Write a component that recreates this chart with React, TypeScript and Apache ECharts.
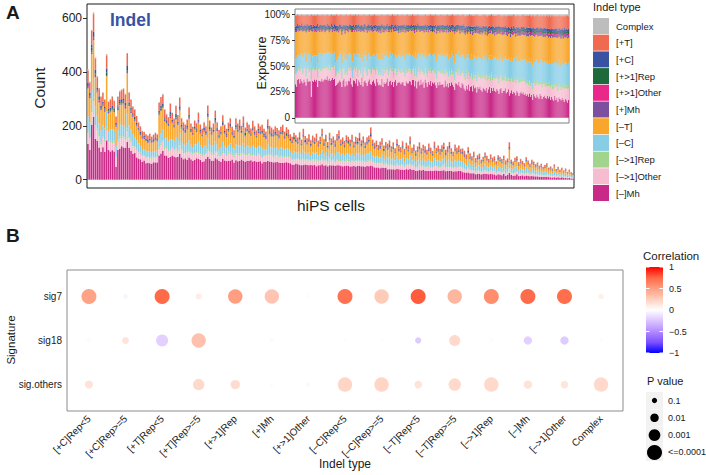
import React, { useEffect, useRef } from 'react';
import * as echarts from 'echarts';

const FONT = '"Liberation Sans", Arial, Helvetica, sans-serif';

// ---------- Panel A: indel counts per hiPS cell ----------
const cellTotals = [
  410, 365, 555, 622, 455, 385, 340, 310, 325, 300, 467, 290, 300, 311, 295, 235, 310, 331, 336, 340,
  320, 470, 326, 300, 274, 263, 237, 215, 200, 182, 178, 170, 165, 172, 160, 168, 175, 170, 289, 307,
  319, 263, 245, 232, 285, 250, 228, 276, 240, 307, 230, 215, 205, 225, 271, 210, 198, 220, 212, 251,
  205, 190, 215, 200, 278, 220, 195, 210, 258, 215, 185, 200, 241, 205, 190, 212, 230, 198, 185, 230,
  210, 225, 200, 237, 195, 215, 205, 190, 220, 200, 185, 210, 198, 205, 190, 180, 226, 200, 195, 188,
  200, 192, 185, 198, 205, 180, 195, 188, 170, 160, 175, 165, 158, 178, 150, 190, 162, 155, 170, 148,
  165, 158, 172, 145, 160, 190, 152, 168, 140, 175, 155, 162, 148, 170, 185, 150, 158, 145, 165, 160,
  150, 168, 142, 160, 155, 175, 148, 162, 140, 158, 165, 196, 150, 138, 145, 130, 142, 155, 128, 140,
  135, 148, 125, 140, 118, 150, 130, 122, 145, 115, 138, 128, 160, 120, 132, 110, 125, 140, 118, 130,
  125, 112, 135, 120, 108, 142, 118, 128, 115, 130, 138, 112, 125, 140, 118, 105, 132, 120, 128, 115,
  118, 108, 95, 122, 100, 88, 105, 80, 92, 98, 75, 85, 102, 90, 78, 95, 82, 88, 70, 92,
  85, 78, 90, 72, 80, 140, 75, 68, 82, 88, 65, 78, 70, 62, 85, 72, 60, 75, 68, 58,
  65, 52, 60, 48, 55, 62, 45, 50, 42, 58, 40, 48, 38, 45, 35, 42, 30, 38, 28, 25,
];

// share (%) of each indel type per cell
const shareDelMh = [
  32, 30, 35, 36, 33, 38, 36, 34, 37, 35, 30, 38, 36, 37, 35, 20, 36, 35, 37, 36,
  38, 28, 36, 37, 35, 38, 36, 37, 39, 38, 40, 37, 39, 36, 38, 40, 37, 39, 30, 32,
  33, 35, 37, 34, 30, 36, 38, 32, 35, 31, 37, 36, 38, 34, 30, 37, 36, 33, 38, 31,
  37, 35, 33, 38, 30, 36, 37, 34, 31, 36, 38, 33, 32, 36, 37, 34, 31, 38, 36, 32,
  34, 32, 36, 31, 37, 33, 35, 38, 32, 36, 37, 33, 35, 30, 36, 38, 32, 34, 36, 35,
  33, 35, 36, 32, 31, 37, 34, 35, 38, 36, 33, 37, 39, 32, 38, 30, 36, 37, 33, 38,
  34, 36, 31, 38, 35, 30, 37, 33, 38, 32, 36, 34, 37, 31, 29, 36, 33, 37, 32, 35,
  35, 31, 37, 33, 34, 30, 36, 32, 37, 34, 31, 27, 35, 36, 33, 37, 32, 30, 36, 33,
  30, 28, 33, 29, 34, 27, 31, 33, 28, 34, 29, 31, 25, 32, 30, 33, 28, 26, 31, 29,
  28, 31, 26, 29, 32, 25, 30, 27, 31, 28, 26, 30, 28, 24, 29, 31, 25, 28, 27, 30,
  25, 27, 29, 22, 26, 28, 24, 27, 25, 23, 28, 26, 22, 25, 27, 24, 26, 23, 25, 22,
  24, 22, 25, 21, 23, 18, 24, 22, 20, 23, 21, 19, 24, 22, 18, 21, 23, 20, 19, 22,
  20, 22, 18, 21, 19, 17, 22, 18, 20, 16, 21, 19, 17, 20, 18, 16, 19, 17, 15, 18,
];
const shareDelOther = [
  10, 12, 8, 9, 11, 10, 12, 9, 11, 13, 8, 10, 12, 9, 11, 14, 10, 12, 9, 11,
  10, 8, 11, 12, 10, 9, 12, 11, 10, 12, 9, 11, 13, 10, 12, 11, 9, 12, 8, 10,
  11, 9, 12, 10, 8, 11, 10, 12, 9, 10, 12, 11, 9, 13, 8, 10, 12, 11, 10, 9,
  10, 12, 11, 9, 8, 11, 13, 10, 9, 12, 10, 11, 9, 12, 10, 13, 11, 9, 12, 10,
  12, 10, 9, 11, 13, 10, 12, 9, 11, 10, 12, 13, 10, 9, 11, 12, 10, 11, 13, 10,
  11, 13, 10, 12, 9, 11, 10, 12, 13, 10, 11, 9, 12, 10, 13, 11, 10, 12, 11, 9,
  12, 10, 13, 11, 10, 9, 12, 11, 10, 13, 11, 12, 10, 11, 9, 12, 13, 10, 11, 12,
  11, 12, 10, 13, 11, 10, 12, 11, 13, 10, 12, 9, 11, 12, 10, 13, 11, 12, 10, 11,
  12, 11, 13, 10, 12, 11, 10, 13, 12, 11, 10, 12, 11, 13, 12, 10, 11, 13, 12, 11,
  11, 13, 12, 10, 11, 12, 13, 11, 10, 12, 13, 11, 12, 10, 11, 13, 12, 11, 10, 12,
  12, 11, 10, 13, 12, 11, 12, 10, 13, 12, 11, 12, 13, 11, 10, 12, 11, 13, 12, 11,
  11, 12, 13, 11, 12, 10, 11, 13, 12, 11, 12, 13, 10, 12, 11, 13, 12, 11, 12, 10,
  12, 11, 13, 12, 10, 12, 11, 13, 12, 11, 13, 12, 10, 11, 12, 13, 11, 12, 13, 12,
];
const shareDelRep = [
  2, 1, 2, 2, 1, 2, 3, 2, 1, 2, 2, 1, 2, 2, 3, 2, 1, 2, 2, 1,
  2, 2, 1, 3, 2, 1, 2, 2, 3, 1, 2, 2, 1, 2, 3, 2, 2, 1, 2, 2,
  1, 2, 3, 2, 2, 1, 2, 3, 2, 2, 1, 2, 2, 3, 1, 2, 2, 2, 1, 3,
  2, 3, 2, 1, 2, 2, 3, 2, 1, 2, 3, 2, 2, 1, 2, 3, 2, 2, 3, 1,
  3, 2, 2, 1, 3, 2, 2, 3, 2, 1, 2, 2, 3, 2, 1, 2, 3, 2, 2, 3,
  2, 1, 3, 2, 2, 3, 1, 2, 3, 2, 2, 1, 2, 3, 2, 2, 3, 1, 2, 2,
  2, 3, 2, 2, 1, 3, 2, 2, 3, 2, 1, 2, 3, 2, 2, 3, 1, 2, 2, 3,
  3, 2, 2, 3, 2, 1, 3, 2, 2, 3, 2, 2, 1, 3, 2, 3, 2, 2, 3, 2,
  2, 3, 3, 2, 2, 3, 2, 3, 2, 2, 3, 3, 2, 2, 3, 2, 3, 2, 3, 3,
  3, 2, 3, 3, 2, 3, 2, 3, 3, 2, 3, 2, 3, 3, 2, 3, 3, 2, 3, 2,
  3, 3, 2, 3, 3, 2, 3, 3, 2, 3, 3, 3, 2, 3, 3, 2, 3, 3, 3, 2,
  3, 3, 4, 2, 3, 3, 3, 2, 4, 3, 3, 2, 3, 3, 4, 3, 2, 3, 3, 4,
  3, 4, 3, 3, 4, 3, 2, 4, 3, 3, 4, 3, 3, 4, 3, 3, 4, 3, 3, 4,
];
const shareDelC = [
  13, 15, 12, 11, 14, 13, 12, 15, 13, 14, 12, 13, 14, 15, 12, 16, 13, 14, 12, 13,
  12, 11, 14, 13, 15, 12, 14, 13, 12, 14, 13, 15, 12, 14, 13, 12, 14, 13, 11, 12,
  13, 14, 12, 15, 13, 12, 14, 13, 15, 12, 13, 14, 12, 13, 15, 14, 12, 13, 14, 15,
  14, 13, 15, 12, 14, 13, 12, 15, 14, 13, 12, 14, 15, 13, 14, 12, 15, 13, 14, 15,
  15, 14, 13, 16, 14, 15, 13, 14, 16, 15, 14, 13, 15, 16, 14, 13, 15, 14, 13, 16,
  14, 15, 13, 16, 15, 14, 16, 15, 13, 15, 16, 14, 15, 16, 14, 17, 15, 14, 16, 15,
  16, 15, 17, 14, 16, 15, 14, 17, 16, 15, 16, 14, 17, 16, 15, 14, 17, 16, 15, 17,
  16, 17, 15, 16, 18, 17, 15, 16, 17, 18, 16, 15, 17, 16, 18, 15, 17, 18, 16, 17,
  18, 17, 16, 19, 17, 18, 16, 17, 19, 18, 17, 16, 19, 18, 17, 19, 18, 16, 17, 19,
  18, 19, 17, 18, 20, 19, 17, 18, 19, 20, 18, 17, 19, 20, 18, 19, 17, 20, 19, 18,
  19, 20, 18, 21, 19, 20, 18, 21, 20, 19, 21, 18, 20, 19, 21, 20, 18, 19, 21, 20,
  20, 21, 19, 22, 20, 21, 19, 20, 22, 21, 19, 20, 21, 22, 20, 19, 21, 22, 20, 21,
  21, 22, 20, 21, 23, 21, 22, 20, 21, 23, 22, 21, 20, 22, 21, 23, 22, 21, 20, 22,
];
const shareDelT = [
  25, 24, 23, 22, 24, 22, 23, 25, 22, 21, 27, 23, 22, 24, 23, 30, 24, 22, 23, 24,
  23, 30, 22, 21, 23, 24, 22, 23, 21, 22, 21, 22, 20, 23, 22, 21, 23, 21, 30, 28,
  25, 24, 22, 23, 28, 24, 22, 26, 23, 28, 22, 23, 22, 24, 28, 23, 22, 25, 21, 27,
  22, 23, 25, 22, 29, 23, 22, 24, 27, 23, 22, 25, 26, 23, 22, 24, 26, 22, 23, 26,
  24, 26, 23, 27, 22, 25, 23, 22, 25, 23, 22, 24, 23, 27, 24, 22, 26, 24, 22, 23,
  24, 23, 24, 25, 26, 23, 24, 23, 22, 24, 25, 24, 22, 25, 23, 27, 24, 23, 25, 22,
  24, 23, 25, 22, 24, 28, 23, 24, 22, 25, 23, 24, 22, 25, 27, 23, 24, 22, 25, 23,
  24, 25, 23, 24, 22, 26, 23, 25, 22, 23, 25, 28, 24, 23, 25, 22, 24, 25, 23, 24,
  25, 26, 24, 25, 23, 26, 25, 24, 26, 23, 25, 24, 27, 23, 25, 24, 26, 25, 24, 25,
  25, 24, 26, 25, 23, 26, 24, 25, 24, 23, 25, 26, 24, 27, 25, 24, 26, 25, 24, 25,
  25, 24, 26, 24, 25, 24, 26, 25, 24, 26, 24, 25, 26, 25, 24, 25, 26, 24, 25, 26,
  25, 26, 24, 27, 25, 30, 25, 26, 25, 24, 26, 27, 25, 24, 26, 25, 26, 24, 27, 25,
  26, 24, 26, 25, 26, 27, 25, 26, 25, 27, 24, 26, 27, 25, 26, 27, 25, 26, 27, 25,
];
const shareInsMh = [
  1, 2, 1, 1, 2, 1, 2, 1, 1, 2, 1, 2, 1, 1, 2, 1, 2, 1, 1, 2,
  2, 1, 1, 2, 1, 2, 1, 1, 2, 1, 2, 1, 2, 1, 1, 2, 1, 2, 1, 1,
  1, 2, 1, 1, 2, 1, 2, 2, 1, 1, 2, 1, 1, 2, 1, 2, 1, 1, 2, 1,
  2, 1, 2, 1, 1, 2, 1, 1, 2, 2, 1, 1, 2, 1, 2, 1, 1, 2, 1, 2,
  1, 2, 1, 2, 2, 1, 1, 2, 1, 2, 1, 2, 1, 1, 2, 2, 1, 2, 1, 1,
  2, 1, 2, 1, 2, 1, 2, 2, 1, 1, 2, 2, 1, 2, 1, 2, 1, 2, 2, 1,
  1, 2, 2, 1, 2, 1, 2, 1, 2, 2, 1, 2, 2, 1, 2, 1, 2, 2, 1, 2,
  2, 2, 1, 2, 1, 2, 2, 1, 2, 2, 2, 1, 2, 2, 1, 2, 2, 1, 2, 2,
  2, 1, 2, 2, 2, 1, 2, 2, 3, 2, 1, 2, 2, 2, 3, 2, 2, 1, 2, 2,
  2, 2, 3, 2, 2, 2, 1, 2, 3, 2, 2, 2, 3, 2, 2, 1, 2, 3, 2, 2,
  2, 3, 2, 2, 3, 2, 2, 3, 2, 2, 3, 2, 2, 3, 2, 2, 3, 2, 2, 3,
  2, 3, 2, 3, 2, 2, 3, 2, 3, 2, 3, 2, 2, 3, 2, 3, 2, 3, 2, 3,
  3, 2, 3, 2, 3, 3, 2, 3, 2, 3, 2, 3, 3, 2, 3, 2, 3, 3, 2, 3,
];
const shareInsOther = [
  1, 0, 1, 1, 0, 1, 1, 0, 1, 1, 0, 1, 1, 1, 0, 1, 0, 1, 1, 0,
  1, 1, 0, 1, 1, 0, 1, 1, 0, 1, 1, 0, 1, 0, 1, 1, 0, 1, 1, 0,
  0, 1, 1, 0, 1, 1, 0, 1, 1, 0, 1, 1, 0, 1, 1, 0, 1, 0, 1, 1,
  1, 0, 1, 1, 0, 1, 1, 0, 1, 0, 1, 1, 0, 1, 1, 0, 1, 1, 0, 1,
  1, 1, 0, 1, 1, 0, 1, 0, 1, 1, 0, 1, 1, 0, 1, 1, 0, 1, 1, 0,
  0, 1, 1, 0, 1, 1, 0, 1, 1, 0, 1, 0, 1, 1, 0, 1, 1, 0, 1, 1,
  1, 0, 1, 1, 0, 1, 1, 0, 1, 1, 0, 1, 1, 0, 1, 1, 0, 1, 1, 0,
  1, 1, 0, 1, 1, 0, 1, 1, 0, 1, 1, 1, 0, 1, 1, 0, 1, 1, 0, 1,
  1, 1, 1, 0, 1, 1, 1, 0, 1, 1, 1, 0, 1, 1, 1, 0, 1, 1, 1, 0,
  1, 1, 0, 1, 1, 1, 0, 1, 1, 1, 0, 1, 1, 1, 0, 1, 1, 1, 0, 1,
  1, 1, 1, 0, 1, 1, 1, 1, 0, 1, 1, 1, 1, 0, 1, 1, 1, 1, 0, 1,
  1, 1, 1, 1, 0, 1, 1, 1, 1, 0, 1, 1, 1, 1, 0, 1, 1, 1, 1, 0,
  1, 1, 1, 1, 1, 0, 1, 1, 1, 1, 1, 0, 1, 1, 1, 1, 1, 0, 1, 1,
];
const shareInsRep = [
  1, 1, 2, 1, 1, 1, 2, 1, 1, 1, 2, 1, 1, 2, 1, 1, 1, 2, 1, 1,
  1, 2, 1, 1, 1, 2, 1, 1, 2, 1, 1, 1, 2, 1, 1, 2, 1, 1, 1, 2,
  2, 1, 1, 1, 2, 1, 1, 2, 1, 1, 1, 2, 1, 1, 2, 1, 1, 1, 2, 1,
  1, 1, 2, 1, 1, 2, 1, 1, 1, 2, 1, 1, 2, 1, 1, 1, 2, 1, 1, 2,
  1, 2, 1, 1, 2, 1, 1, 1, 2, 1, 1, 2, 1, 1, 1, 2, 1, 1, 2, 1,
  2, 1, 1, 2, 1, 1, 2, 1, 1, 1, 2, 1, 1, 2, 1, 1, 2, 1, 1, 1,
  1, 1, 2, 1, 2, 1, 1, 2, 1, 1, 2, 1, 1, 1, 2, 1, 1, 2, 1, 2,
  2, 1, 1, 2, 1, 2, 1, 1, 2, 1, 1, 2, 1, 2, 1, 1, 2, 1, 2, 1,
  1, 2, 1, 2, 1, 1, 2, 1, 2, 1, 2, 1, 1, 2, 1, 2, 1, 2, 1, 1,
  2, 1, 2, 1, 2, 1, 1, 2, 1, 2, 1, 2, 1, 2, 2, 1, 2, 1, 2, 1,
  1, 2, 2, 1, 2, 1, 2, 2, 1, 2, 1, 2, 2, 1, 2, 2, 1, 2, 1, 2,
  2, 2, 1, 2, 2, 1, 2, 2, 1, 2, 2, 1, 2, 2, 1, 2, 2, 2, 1, 2,
  2, 1, 2, 2, 2, 1, 2, 2, 2, 1, 2, 2, 1, 2, 2, 2, 1, 2, 2, 2,
];
const shareInsC = [
  2, 3, 2, 2, 3, 2, 2, 3, 2, 2, 3, 2, 3, 2, 2, 3, 2, 2, 3, 2,
  3, 2, 2, 3, 2, 2, 3, 2, 3, 2, 2, 3, 2, 2, 3, 2, 2, 3, 2, 3,
  2, 2, 3, 2, 3, 2, 2, 3, 2, 3, 2, 2, 3, 2, 2, 3, 2, 3, 2, 2,
  3, 2, 2, 3, 2, 3, 2, 2, 3, 2, 3, 2, 2, 3, 2, 3, 2, 2, 3, 2,
  2, 3, 2, 2, 3, 2, 3, 2, 2, 3, 2, 3, 2, 3, 2, 2, 3, 2, 3, 2,
  3, 2, 3, 2, 2, 3, 2, 3, 2, 3, 2, 2, 3, 2, 3, 2, 3, 2, 2, 3,
  2, 3, 2, 3, 2, 2, 3, 2, 3, 2, 3, 2, 3, 2, 2, 3, 2, 3, 2, 3,
  3, 2, 3, 2, 3, 2, 3, 3, 2, 3, 2, 3, 2, 3, 3, 2, 3, 2, 3, 2,
  3, 3, 2, 3, 2, 3, 3, 2, 3, 3, 2, 3, 3, 2, 3, 3, 2, 3, 3, 2,
  3, 2, 3, 3, 3, 2, 3, 3, 2, 3, 3, 3, 2, 3, 3, 2, 3, 3, 3, 2,
  3, 3, 2, 3, 3, 3, 2, 3, 3, 3, 2, 3, 3, 3, 3, 2, 3, 3, 3, 3,
  3, 3, 3, 2, 3, 3, 3, 3, 2, 3, 3, 3, 3, 2, 3, 3, 4, 3, 3, 3,
  3, 4, 3, 3, 3, 4, 3, 3, 4, 3, 3, 3, 4, 3, 3, 4, 3, 3, 4, 3,
];
const shareInsT = [
  11, 10, 9, 10, 9, 10, 9, 11, 10, 9, 10, 9, 10, 11, 9, 10, 11, 9, 10, 11,
  10, 9, 11, 10, 9, 10, 11, 9, 10, 11, 9, 10, 10, 11, 9, 10, 11, 9, 10, 11,
  10, 11, 9, 10, 11, 10, 9, 11, 10, 10, 11, 9, 10, 11, 10, 9, 11, 10, 9, 10,
  10, 11, 10, 9, 11, 10, 9, 11, 10, 9, 11, 10, 9, 11, 10, 11, 9, 10, 11, 10,
  11, 10, 9, 11, 10, 11, 10, 9, 11, 10, 11, 9, 10, 11, 10, 9, 11, 10, 11, 10,
  10, 11, 10, 9, 11, 10, 11, 10, 11, 10, 9, 11, 10, 11, 10, 11, 9, 10, 11, 10,
  11, 10, 11, 10, 11, 9, 11, 10, 11, 10, 11, 10, 11, 10, 11, 10, 11, 10, 11, 10,
  10, 11, 10, 11, 10, 11, 10, 11, 10, 11, 10, 11, 11, 10, 11, 10, 11, 10, 11, 10,
  11, 12, 11, 12, 11, 12, 11, 12, 11, 12, 11, 12, 11, 12, 11, 12, 11, 12, 11, 12,
  12, 11, 12, 12, 11, 12, 12, 11, 12, 12, 11, 12, 12, 11, 12, 12, 11, 12, 12, 11,
  12, 13, 12, 12, 13, 12, 13, 12, 12, 13, 12, 13, 12, 13, 12, 12, 13, 12, 13, 12,
  13, 12, 13, 13, 12, 13, 12, 13, 13, 12, 13, 13, 12, 13, 12, 13, 13, 12, 13, 13,
  13, 14, 13, 13, 14, 13, 14, 13, 13, 14, 13, 14, 13, 13, 14, 13, 14, 13, 14, 13,
];
const shareComplex = [
  1, 1, 0, 1, 1, 1, 0, 1, 1, 1, 1, 0, 1, 1, 1, 0, 1, 1, 1, 1,
  1, 0, 1, 1, 1, 1, 0, 1, 1, 1, 0, 1, 1, 1, 0, 1, 1, 1, 1, 0,
  1, 1, 1, 0, 1, 1, 1, 1, 0, 1, 1, 1, 0, 1, 1, 1, 1, 0, 1, 1,
  0, 1, 1, 1, 1, 0, 1, 1, 1, 1, 0, 1, 1, 1, 1, 0, 1, 1, 1, 1,
  1, 1, 0, 1, 1, 1, 1, 0, 1, 1, 1, 1, 0, 1, 1, 1, 1, 0, 1, 1,
  1, 0, 1, 1, 1, 1, 0, 1, 1, 1, 1, 0, 1, 1, 1, 1, 0, 1, 1, 1,
  1, 1, 1, 0, 1, 1, 1, 1, 0, 1, 1, 1, 1, 0, 1, 1, 1, 1, 0, 1,
  1, 1, 1, 1, 0, 1, 1, 1, 1, 0, 1, 1, 1, 1, 0, 1, 1, 1, 1, 0,
  1, 2, 1, 1, 1, 0, 1, 1, 2, 1, 1, 1, 0, 1, 1, 2, 1, 1, 1, 0,
  1, 1, 2, 1, 1, 1, 0, 1, 1, 2, 1, 1, 1, 0, 1, 1, 2, 1, 1, 1,
  2, 1, 1, 1, 2, 1, 1, 0, 1, 2, 1, 1, 1, 2, 1, 1, 0, 1, 2, 1,
  1, 2, 1, 1, 2, 1, 1, 2, 1, 1, 0, 2, 1, 1, 2, 1, 1, 2, 1, 1,
  2, 1, 2, 1, 1, 2, 1, 2, 1, 2, 1, 1, 2, 1, 2, 1, 2, 1, 1, 2,
];

const countTicks = [0, 200, 400, 600];
const exposureTicks = [0, 0.25, 0.5, 0.75, 1];

// ---------- Panel B: correlation between signatures and indel types ----------
const indelTypes = [
  '[+C]Rep<5', '[+C]Rep>=5', '[+T]Rep<5', '[+T]Rep>=5', '[+>1]Rep', '[+]Mh', '[+>1]Other',
  '[–C]Rep<5', '[–C]Rep>=5', '[–T]Rep<5', '[–T]Rep>=5', '[–>1]Rep', '[–]Mh', '[–>1]Other', 'Complex',
];
const signatures = ['sig.others', 'sig18', 'sig7'];
const corrSig7 = [0.48, -0.05, 0.74, 0.1, 0.5, 0.3, 0.02, 0.7, 0.27, 0.78, 0.38, 0.58, 0.73, 0.72, 0.08];
const pSig7 = [1e-4, 0.16, 1e-5, 0.06, 1.5e-4, 1.5e-4, 0.25, 1e-4, 1.5e-4, 1e-5, 1.5e-4, 1e-4, 1e-5, 1e-5, 0.08];
const corrSig18 = [0.03, 0.15, -0.2, 0.32, 0.01, -0.03, 0.01, 0.02, 0.02, -0.22, 0.2, 0.02, -0.2, -0.22, 0.02];
const pSig18 = [0.15, 0.035, 8e-4, 1.5e-4, 0.9, 0.3, 0.7, 0.5, 0.5, 0.05, 0.0016, 0.2, 0.011, 0.011, 0.25];
const corrOthers = [0.15, 0.0, 0.01, 0.2, 0.18, 0.03, 0.04, 0.22, 0.22, 0.15, 0.2, 0.2, 0.15, 0.13, 0.2];
const pOthers = [0.014, 0.95, 0.9, 0.0013, 0.0056, 0.5, 0.3, 1.5e-4, 1.5e-4, 0.018, 6e-4, 1.5e-4, 0.011, 0.018, 1.5e-4];
const pLegendValues = [0.1, 0.01, 0.001, 0.0001];
const pLegendLabels = ['0.1', '0.01', '0.001', '<=0.0001'];
const corrTicks = [1, 0.5, 0, -0.5, -1];
const corrTickLabels = ['1', '0.5', '0', '−0.5', '−1'];

// diverging palette (blue - white - red), Lab-like interpolation stops from -1 to 1
const corrPalette = ['#0000FF', '#7E51FF', '#B38BFF', '#DCC4FF', '#FFFFFF', '#FFCFBE', '#FF9E81', '#FF6846', '#FF0000'];

function pointSize(p: number) {
  return 2 + 3.25 * Math.min(4, -Math.log10(p));
}

function txt(text: string, x: number, y: number, size: number, opts: any = {}) {
  const align = opts.align || 'left';
  const v = opts.v || 'middle';
  return {
    type: 'text',
    x,
    y,
    rotation: opts.rotation || 0,
    z: 50,
    style: {
      text,
      fill: opts.color || '#1a1a1a',
      fontSize: size,
      fontFamily: FONT,
      fontWeight: opts.bold ? 'bold' : 'normal',
      align,
      verticalAlign: v,
      textAlign: align,
      textVerticalAlign: v,
    },
  };
}

function buildOption() {
  const cats = cellTotals.map((_, i) => 'cell' + (i + 1));
  const layers = [
    { name: '[–]Mh', share: shareDelMh, color: '#C92A88' },
    { name: '[–>1]Other', share: shareDelOther, color: '#F6BDD1' },
    { name: '[–>1]Rep', share: shareDelRep, color: '#A1D48D' },
    { name: '[–C]', share: shareDelC, color: '#86CDE5' },
    { name: '[–T]', share: shareDelT, color: '#F8A62C' },
    { name: '[+]Mh', share: shareInsMh, color: '#7C4F9F' },
    { name: '[+>1]Other', share: shareInsOther, color: '#E8298A' },
    { name: '[+>1]Rep', share: shareInsRep, color: '#1E6A3B' },
    { name: '[+C]', share: shareInsC, color: '#3A52A2' },
    { name: '[+T]', share: shareInsT, color: '#EF6A50' },
    { name: 'Complex', share: shareComplex, color: '#BDBDBD' },
  ];
  const shareSum = cellTotals.map((_, i) => layers.reduce((s, l) => s + (l.share[i] ?? 0), 0));
  const counts = layers.map((l) => cellTotals.map((t, i) => (t * (l.share[i] ?? 0)) / shareSum[i]));
  const fractions = layers.map((l) => cellTotals.map((_, i) => (l.share[i] ?? 0) / shareSum[i]));

  const series: any[] = [];
  layers.forEach((l, k) => {
    series.push({
      type: 'bar',
      name: l.name,
      stack: 'count',
      xAxisIndex: 0,
      yAxisIndex: 0,
      data: counts[k],
      barCategoryGap: '18%',
      itemStyle: { color: l.color },
      z: 2,
      silent: true,
    });
  });
  layers.forEach((l, k) => {
    series.push({
      type: 'bar',
      name: l.name,
      stack: 'share',
      xAxisIndex: 1,
      yAxisIndex: 1,
      data: fractions[k],
      barCategoryGap: '0%',
      itemStyle: { color: l.color },
      z: 6,
      silent: true,
    });
  });
  const scatterData: any[] = [];
  const rows = [
    { corr: corrOthers, p: pOthers },
    { corr: corrSig18, p: pSig18 },
    { corr: corrSig7, p: pSig7 },
  ];
  rows.forEach((r, s) => {
    indelTypes.forEach((_, c) => scatterData.push([c, s, r.corr[c], r.p[c]]));
  });
  const scatterIndex = series.length;
  series.push({
    type: 'scatter',
    xAxisIndex: 2,
    yAxisIndex: 2,
    data: scatterData,
    encode: { x: 0, y: 1 },
    symbolSize: (v: number[]) => pointSize(v[3]),
    itemStyle: { opacity: 1 },
    silent: true,
  });

  const catIdx = indelTypes.map((_, i) => i);

  const cbX = 646, cbY = 267, cbW = 17, cbH = 86;
  const stops = corrPalette
    .slice()
    .reverse()
    .map((c, i, a) => ({ offset: i / (a.length - 1), color: c }));
  const graphics: any[] = [
    txt('A', 6, 12, 19, { bold: true }),
    txt('Indel', 110, 20, 17.5, { bold: true, color: '#3953A4' }),
    txt('Count', 39, 88, 15.5, { align: 'center', rotation: Math.PI / 2 }),
    txt('Exposure', 262, 63, 12.5, { align: 'center', rotation: Math.PI / 2 }),
    txt('hiPS cells', 331, 205, 15.5, { align: 'center' }),
    txt('Indel type', 593, 7, 11),
    txt('B', 6, 235, 19, { bold: true }),
    txt('Signature', 11, 340, 11.5, { align: 'center', rotation: Math.PI / 2 }),
    txt('Indel type', 345, 464, 12, { align: 'center' }),
    txt('Correlation', 643, 256, 11.5),
    txt('P value', 647, 381, 11),
    {
      type: 'rect',
      shape: { x: cbX, y: cbY, width: cbW, height: cbH },
      style: { fill: new echarts.graphic.LinearGradient(0, 0, 0, 1, stops) },
      z: 40,
    },
  ];
  corrTicks.forEach((v, i) => {
    const y = cbY + ((1 - v) / 2) * cbH;
    graphics.push({ type: 'line', shape: { x1: cbX, y1: y, x2: cbX + 3.5, y2: y }, style: { stroke: '#fff', lineWidth: 1 }, z: 41 });
    graphics.push({ type: 'line', shape: { x1: cbX + cbW - 3.5, y1: y, x2: cbX + cbW, y2: y }, style: { stroke: '#fff', lineWidth: 1 }, z: 41 });
    graphics.push(txt(corrTickLabels[i], 669, y, 9));
  });
  pLegendValues.forEach((p, i) => {
    const top = 392 + i * 17.3;
    graphics.push({ type: 'rect', shape: { x: 646, y: top, width: 17, height: 17 }, style: { fill: '#F2F2F2' }, z: 40 });
    graphics.push({ type: 'circle', shape: { cx: 654.5, cy: top + 8.5, r: pointSize(p) / 2 }, style: { fill: '#000' }, z: 41 });
    graphics.push(txt(pLegendLabels[i], 668, top + 8.5, 9));
  });

  return {
    animation: false,
    backgroundColor: '#fff',
    textStyle: { fontFamily: FONT },
    legend: {
      orient: 'vertical',
      left: 593,
      top: 18,
      itemWidth: 16,
      itemHeight: 16,
      itemGap: 0.7,
      icon: 'rect',
      selectedMode: false,
      padding: 0,
      data: layers.map((l) => l.name).reverse(),
      textStyle: { fontSize: 9.5, color: '#1a1a1a', fontFamily: FONT, padding: [0, 0, 0, 2] },
    },
    grid: [
      { left: 87, top: 4, width: 487, height: 184, show: true, borderColor: '#1a1a1a', borderWidth: 1, backgroundColor: 'rgba(0,0,0,0)', z: 1 },
      { left: 295, top: 9, width: 274, height: 114, show: true, borderColor: '#7f7f7f', borderWidth: 1, backgroundColor: '#fff', z: 5 },
      { left: 67, top: 270, width: 556, height: 141, show: true, borderColor: '#8c8c8c', borderWidth: 1, backgroundColor: '#fff', z: 1 },
    ],
    xAxis: [
      { type: 'category', gridIndex: 0, data: cats, axisLine: { show: false }, axisTick: { show: false }, axisLabel: { show: false }, splitLine: { show: false } },
      { type: 'category', gridIndex: 1, data: cats, axisLine: { show: false }, axisTick: { show: false }, axisLabel: { show: false }, splitLine: { show: false }, z: 7 },
      {
        type: 'value', gridIndex: 2, min: -0.6, max: 14.6,
        axisLine: { show: false }, splitLine: { show: false },
        axisTick: { show: true, length: 4, customValues: catIdx, lineStyle: { color: '#333' } },
        axisLabel: { customValues: catIdx, formatter: (v: number) => indelTypes[Math.round(v)] ?? '', rotate: 45, fontSize: 10, color: '#1a1a1a', margin: 6, fontFamily: FONT },
      },
    ],
    yAxis: [
      {
        type: 'value', gridIndex: 0, min: -31, max: 653,
        axisLine: { show: false }, splitLine: { show: false },
        axisTick: { show: true, length: 4, customValues: countTicks, lineStyle: { color: '#333' } },
        axisLabel: { customValues: countTicks, fontSize: 12, color: '#1a1a1a', margin: 5, fontFamily: FONT },
      },
      {
        type: 'value', gridIndex: 1, min: -0.05, max: 1.05, z: 7,
        axisLine: { show: false }, splitLine: { show: false },
        axisTick: { show: true, length: 3, customValues: exposureTicks, lineStyle: { color: '#333' } },
        axisLabel: {
          customValues: exposureTicks,
          formatter: (v: number) => (v === 0 ? '0' : Math.round(v * 100) + '%'),
          fontSize: 10, color: '#1a1a1a', margin: 5, fontFamily: FONT,
        },
      },
      {
        type: 'value', gridIndex: 2, min: -0.6, max: 2.6,
        axisLine: { show: false }, splitLine: { show: false },
        axisTick: { show: true, length: 4, customValues: [0, 1, 2], lineStyle: { color: '#333' } },
        axisLabel: { customValues: [0, 1, 2], formatter: (v: number) => signatures[Math.round(v)] ?? '', fontSize: 10, color: '#1a1a1a', margin: 5, fontFamily: FONT },
      },
    ],
    visualMap: {
      type: 'continuous',
      show: false,
      min: -1,
      max: 1,
      dimension: 2,
      seriesIndex: scatterIndex,
      inRange: { color: corrPalette },
    },
    graphic: { elements: graphics },
    series,
  };
}

export default function App() {
  const ref = useRef<HTMLDivElement>(null);
  useEffect(() => {
    if (!ref.current) return;
    const chart = echarts.init(ref.current, null, { renderer: 'svg' });
    chart.setOption(buildOption() as any);
    return () => chart.dispose();
  }, []);
  return (
    <div
      ref={ref}
      style={{ position: 'fixed', left: 0, top: 0, width: 706, height: 475, background: '#fff' }}
    />
  );
}
